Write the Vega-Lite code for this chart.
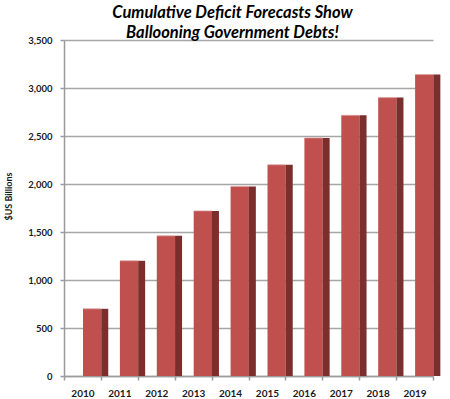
{
  "$schema": "https://vega.github.io/schema/vega-lite/v6.json",
  "autosize": "none",
  "width": 377,
  "height": 336,
  "padding": {"left": 64, "top": 40, "right": 9, "bottom": 23},
  "background": "white",
  "title": {
    "text": ["Cumulative Deficit Forecasts Show", "Ballooning Government Debts!"],
    "font": "Lato",
    "fontSize": 16.5,
    "fontWeight": "bold",
    "fontStyle": "italic",
    "color": "#000000",
    "anchor": "middle",
    "frame": "group",
    "dx": -20,
    "dy": 10,
    "offset": 4,
    "lineHeight": 20
  },
  "config": {
    "view": {"stroke": null},
    "axis": {"labelFont": "Lato", "titleFont": "Lato"}
  },
  "data": {
    "values": [
      {"year": "2010", "value": 700},
      {"year": "2011", "value": 1200},
      {"year": "2012", "value": 1460},
      {"year": "2013", "value": 1720},
      {"year": "2014", "value": 1975},
      {"year": "2015", "value": 2200},
      {"year": "2016", "value": 2480},
      {"year": "2017", "value": 2715},
      {"year": "2018", "value": 2900},
      {"year": "2019", "value": 3140}
    ]
  },
  "encoding": {
    "x": {
      "field": "year",
      "type": "ordinal",
      "scale": {"range": [0, 369], "paddingInner": 0, "paddingOuter": 0},
      "axis": {
        "title": null,
        "labelAngle": 0,
        "labelFontWeight": "bold",
        "labelFontSize": 10,
        "labelColor": "#1a1a1a",
        "labelPadding": 8,
        "tickBand": "extent",
        "tickSize": 4,
        "tickColor": "#9a9a9a",
        "tickWidth": 1.5,
        "domainColor": "#9a9a9a",
        "domainWidth": 1.5,
        "grid": false
      }
    },
    "y": {
      "field": "value",
      "type": "quantitative",
      "scale": {"domain": [0, 3500], "nice": false},
      "axis": {
        "title": "$US Billions",
        "titleFontSize": 9,
        "titleFontWeight": "bold",
        "titleColor": "#1a1a1a",
        "titleAngle": 270,
        "titleX": -56,
        "titleY": 156,
        "titleAlign": "center",
        "titleBaseline": "middle",
        "values": [0, 500, 1000, 1500, 2000, 2500, 3000, 3500],
        "format": ",.0f",
        "labelFontWeight": "bold",
        "labelFontSize": 9.5,
        "labelColor": "#1a1a1a",
        "labelPadding": 8,
        "tickSize": 4,
        "tickColor": "#9a9a9a",
        "tickWidth": 1.5,
        "domainColor": "#9a9a9a",
        "domainWidth": 1.5,
        "grid": true,
        "gridColor": "#a6a6a6",
        "gridWidth": 1.5
      }
    }
  },
  "layer": [
    {"mark": {"type": "bar", "width": 18.3, "xOffset": 9.7, "color": "#c0504d"}},
    {"mark": {"type": "bar", "width": 7, "xOffset": 22.3, "color": "#7b2f2d"}},
    {"mark": {"type": "tick", "size": 18, "thickness": 1, "xOffset": 9.7, "color": "#dba3a1"}}
  ]
}
